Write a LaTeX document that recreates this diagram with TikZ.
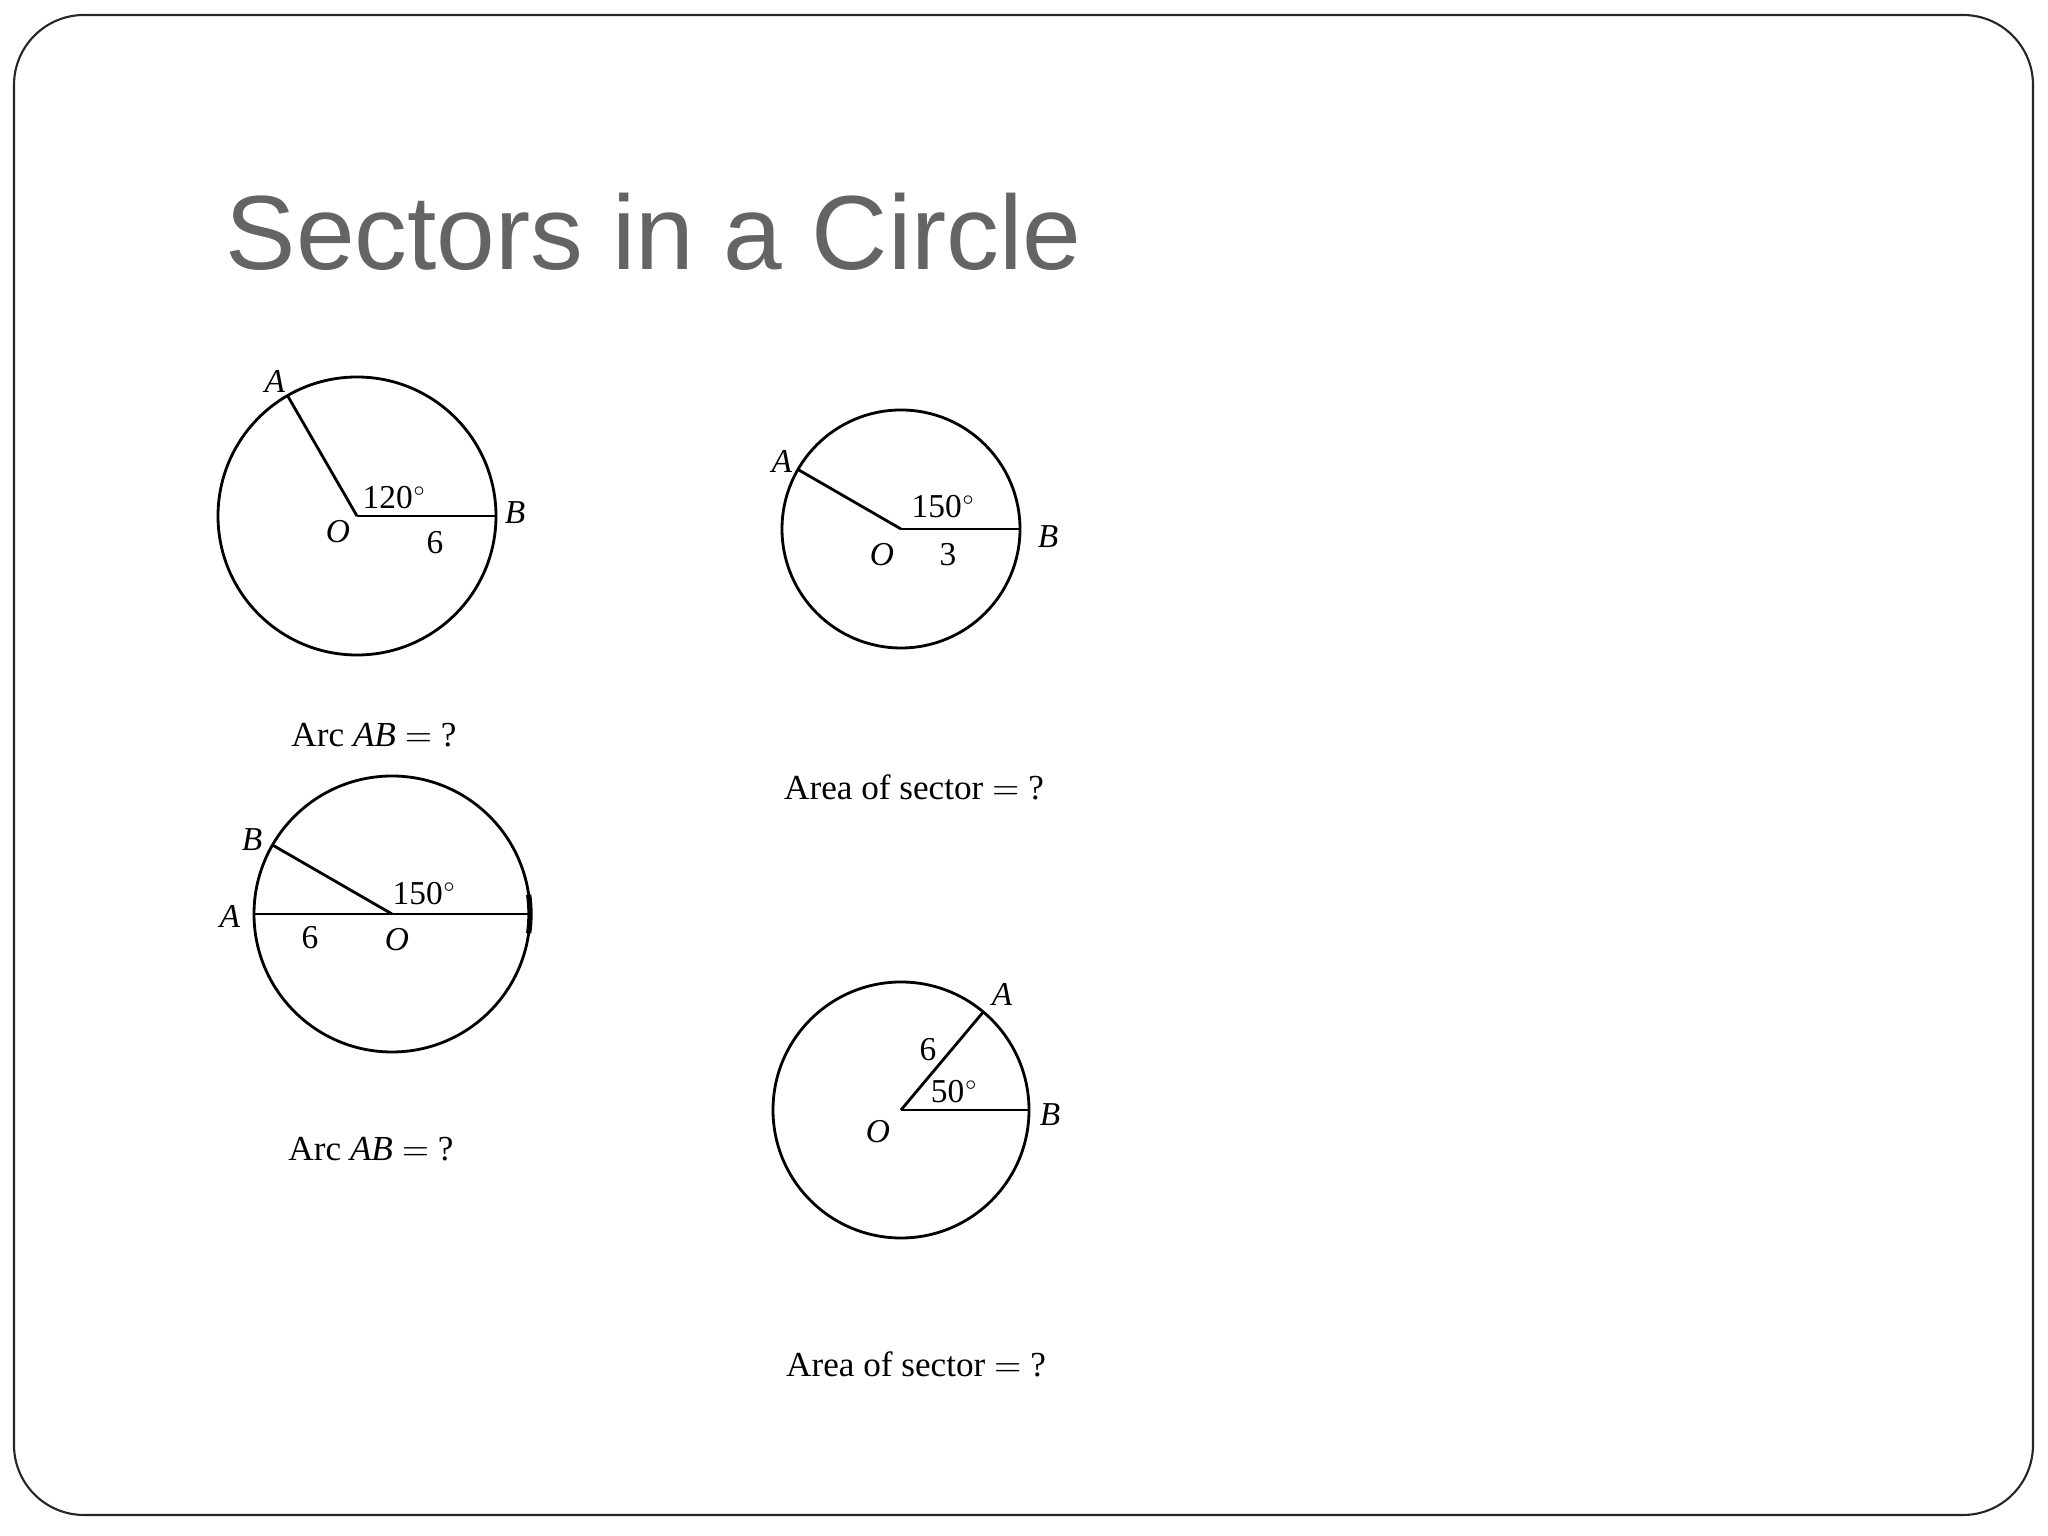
\documentclass[tikz,border=0pt]{standalone}
\usepackage{fontspec}
\setmainfont{Liberation Serif}
\newfontfamily\titlefont{Liberation Sans}
\usepackage{tikz}
\definecolor{titlegray}{RGB}{100,100,100}
\newcommand{\dg}{${}^{\scriptscriptstyle\circ}$}

\begin{document}
\begin{tikzpicture}[x=0.01cm,y=0.01cm]
    \tikzstyle{every node}+=[inner sep=0pt]
    \tikzstyle{lbl}=[font=\fontsize{9.5}{11}\selectfont]
    \tikzstyle{caption}=[font=\fontsize{10}{12}\selectfont]
    \tikzstyle{rim}=[black, line width=0.8pt]
    \useasboundingbox (0,0) rectangle (2048,1536);
    \draw [black!85, line width=0.6pt, rounded corners=0.7cm] (14,21) rectangle (2033,1521);
    \node [anchor=base west, text=titlegray, font=\titlefont\fontsize{30}{36}\selectfont] (title) at (225,1266) {Sectors in a Circle};
    % circle 1
    \coordinate (O1) at (357,1020);
    \path (O1) ++(120:139) coordinate (A1);
    \path (O1) ++(0:139) coordinate (B1);
    \draw [rim] (O1) circle (139);
    \draw [rim] (O1) -- (A1);
    \draw [rim] (O1) -- (B1);
    \node [lbl] (lA1) at (275,1155) {\textit{A}};
    \node [lbl] (lB1) at (515,1023) {\textit{B}};
    \node [lbl] (lO1) at (338,1004) {\textit{O}};
    \node [lbl] (ang1) at (395,1038) {120\dg};
    \node [lbl] (r1) at (435,993) {6};
    \node [caption] (q1) at (374,801) {Arc \textit{AB} $=$ ?};
    % circle 2
    \coordinate (O2) at (901,1007);
    \path (O2) ++(150:119) coordinate (A2);
    \path (O2) ++(0:119) coordinate (B2);
    \draw [rim] (O2) circle (119);
    \draw [rim] (O2) -- (A2);
    \draw [rim] (O2) -- (B2);
    \node [lbl] (lA2) at (782,1075) {\textit{A}};
    \node [lbl] (lB2) at (1048,999) {\textit{B}};
    \node [lbl] (lO2) at (882,981) {\textit{O}};
    \node [lbl] (ang2) at (944,1029) {150\dg};
    \node [lbl] (r2) at (948,981) {3};
    \node [caption] (q2) at (914,749) {Area of sector $=$ ?};
    % circle 3
    \coordinate (O3) at (392,622);
    \path (O3) ++(180:138) coordinate (A3);
    \path (O3) ++(150:138) coordinate (B3);
    \path (O3) ++(0:138) coordinate (C3);
    \draw [rim] (O3) circle (138);
    \draw [rim] (A3) -- (C3);
    \draw [rim] (O3) -- (B3);
    \draw [black, line width=1.5pt] (O3) ++(-8:138) arc (-8:8:138);
    \node [lbl] (lB3) at (252,696) {\textit{B}};
    \node [lbl] (lA3) at (230,620) {\textit{A}};
    \node [lbl] (lO3) at (397,596) {\textit{O}};
    \node [lbl] (ang3) at (425,642) {150\dg};
    \node [lbl] (r3) at (310,598) {6};
    \node [caption] (q3) at (371,387) {Arc \textit{AB} $=$ ?};
    % circle 4
    \coordinate (O4) at (901,426);
    \path (O4) ++(50:128) coordinate (A4);
    \path (O4) ++(0:128) coordinate (B4);
    \draw [rim] (O4) circle (128);
    \draw [rim] (O4) -- (A4);
    \draw [rim] (O4) -- (B4);
    \node [lbl] (lA4) at (1002,542) {\textit{A}};
    \node [lbl] (lB4) at (1050,421) {\textit{B}};
    \node [lbl] (lO4) at (878,404) {\textit{O}};
    \node [lbl] (ang4) at (955,444) {50\dg};
    \node [lbl] (r4) at (928,486) {6};
    \node [caption] (q4) at (916,172) {Area of sector $=$ ?};
\end{tikzpicture}
\end{document}
